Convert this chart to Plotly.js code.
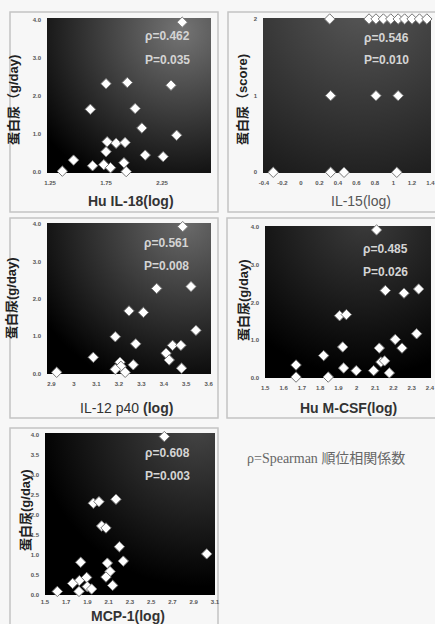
<!DOCTYPE html>
<html>
<head>
<meta charset="utf-8">
<script src="https://cdn.plot.ly/plotly-3.0.1.min.js"></script>
<style>
html,body{margin:0;padding:0;background:#f7f7f7;}
#chart{width:435px;height:624px;}
</style>
</head>
<body>
<div id="chart"></div>
<script>
// ---- data ----
const il18_x = [2.43,1.75,1.94,2.33,1.61,2.01,2.07,2.38,1.76,1.84,1.92,1.75,2.10,2.26,1.46,1.63,1.73,1.79,1.91,1.36,1.93];
const il18_y = [3.93,2.32,2.35,2.28,1.65,1.67,1.16,0.97,0.80,0.76,0.78,0.54,0.45,0.41,0.32,0.17,0.20,0.12,0.25,0.03,0.02];

const il15_x = [0.31,0.735,0.81,0.89,0.97,1.05,1.12,1.20,1.28,1.36,0.32,0.81,1.05,-0.30,0.32,0.465,1.035];
const il15_y = [2,2,2,2,2,2,2,2,2,2,1,1,1,0,0,0,0];

const il12_x = [3.484,3.368,3.521,3.245,3.309,3.543,3.184,3.275,3.439,3.476,3.086,3.41,3.424,3.205,3.209,3.184,3.264,3.479,3.228,2.923];
const il12_y = [3.93,2.28,2.33,1.68,1.64,1.16,0.99,0.80,0.76,0.76,0.44,0.55,0.37,0.31,0.20,0.12,0.24,0.15,0.04,0.04];

const mcsf_x = [2.108,2.156,2.258,2.338,1.906,1.943,2.327,2.21,2.247,1.923,2.123,1.819,2.132,2.152,1.668,1.928,1.997,2.092,2.178,1.668,1.844];
const mcsf_y = [3.93,2.32,2.25,2.36,1.65,1.68,1.17,1.02,0.79,0.82,0.79,0.59,0.42,0.45,0.34,0.26,0.19,0.19,0.13,0.02,0.02];

const mcp1_x = [2.623,1.955,2.008,2.168,2.033,2.074,2.20,3.022,1.836,2.087,2.237,2.112,2.074,1.892,1.823,1.76,1.898,1.939,2.137,1.82,1.616];
const mcp1_y = [3.96,2.29,2.33,2.39,1.72,1.67,1.20,1.02,0.81,0.79,0.84,0.58,0.44,0.43,0.35,0.28,0.20,0.14,0.23,0.08,0.08];

const rho_text = ["ρ=0.462","ρ=0.546","ρ=0.561","ρ=0.485","ρ=0.608"];
const p_text = ["P=0.035","P=0.010","P=0.008","P=0.026","P=0.003"];
const x_titles = ["<b>Hu IL-18(log)</b>","IL-15(log)","IL-12 p40 <b>(log)</b>","<b>Hu M-CSF(log)</b>","<b>MCP-1(log)</b>"];
const y_titles = ["蛋白尿（g/day)","蛋白尿（score)","蛋白尿(g/day)","蛋白尿(g/day)","蛋白尿(g/day)"];

const x1_ticks = [1.25,1.75,2.25];
const x1_labels = ["1.25","1.75","2.25"];
const x2_ticks = [-0.4,-0.2,0,0.2,0.4,0.6,0.8,1,1.2,1.4];
const x2_labels = ["-0.4","-0.2","0","0.2","0.4","0.6","0.8","1","1.2","1.4"];
const x3_ticks = [2.9,3.0,3.1,3.2,3.3,3.4,3.5,3.6];
const x3_labels = ["2.9","3","3.1","3.2","3.3","3.4","3.5","3.6"];
const x4_ticks = [1.5,1.6,1.7,1.8,1.9,2.0,2.1,2.2,2.3,2.4];
const x4_labels = ["1.5","1.6","1.7","1.8","1.9","2","2.1","2.2","2.3","2.4"];
const x5_ticks = [1.5,1.7,1.9,2.1,2.3,2.5,2.7,2.9,3.1];
const x5_labels = ["1.5","1.7","1.9","2.1","2.3","2.5","2.7","2.9","3.1"];
const y_ticks4 = [0,1,2,3,4];
const y_labels4 = ["0.0","1.0","2.0","3.0","4.0"];
const y2_ticks = [0,1,2];
const y2_labels = ["0","1","2"];
const y5_ticks = [0,0.5,1,1.5,2,2.5,3,3.5,4];
const y5_labels = ["0.0","0.5","1.0","1.5","2.0","2.5","3.0","3.5","4.0"];

// ---- layout geometry (pixels) ----
const W = 435, H = 624;
const PX = x => x / W;
const PY = y => 1 - y / H;

const panels = [
  {xd:[47,211], yd:[18,173], xr:[1.223,2.687], yr:[-0.018,4.04], xt:x1_ticks, xl:x1_labels, yt:y_ticks4, yl:y_labels4,
   xs:il18_x, ys:il18_y, grad:{cx:0.82,cy:0.08,r:1.05,inner:'#747474',outer:'#000000'}, so:5,
   ann:[167,36,60], xtitle:[131,201], ytitle:[14,100], frame:[10,12,218,212]},
  {xd:[263,431], yd:[18,173], xr:[-0.411,1.405], yr:[-0.009,2.013], xt:x2_ticks, xl:x2_labels, yt:y2_ticks, yl:y2_labels,
   xs:il15_x, ys:il15_y, grad:{cx:0.6,cy:-0.1,r:1.35,inner:'#585858',outer:'#101010'}, so:5,
   ann:[386,38,60], xtitle:[361,201], ytitle:[243,100], frame:[228,12,438,212]},
  {xd:[47,211], yd:[223,374], xr:[2.88,3.61], yr:[-0.005,4.027], xt:x3_ticks, xl:x3_labels, yt:y_ticks4, yl:y_labels4,
   xs:il12_x, ys:il12_y, grad:{cx:0.85,cy:0.0,r:1.05,inner:'#6a6a6a',outer:'#000000'}, so:5,
   ann:[166,243,266], xtitle:[126,408], ytitle:[11,298], frame:[10,218,218,418]},
  {xd:[265,431], yd:[226,378], xr:[1.4984,2.4055], yr:[-0.005,4.035], xt:x4_ticks, xl:x4_labels, yt:y_ticks4, yl:y_labels4,
   xs:mcsf_x, ys:mcsf_y, grad:{cx:0.6,cy:-0.05,r:0.95,inner:'#3c3c3c',outer:'#000000'}, so:5,
   ann:[385,249,272], xtitle:[348,408], ytitle:[243,300], frame:[227,218,438,418]},
  {xd:[45,215], yd:[433,595], xr:[1.5,3.1], yr:[-0.01,4.05], xt:x5_ticks, xl:x5_labels, yt:y5_ticks, yl:y5_labels,
   xs:mcp1_x, ys:mcp1_y, grad:{cx:0.9,cy:-0.05,r:0.95,inner:'#464646',outer:'#000000'}, so:2,
   ann:[167,453,476], xtitle:[128,616], ytitle:[25,510], frame:[10,428,218,632]}
];

function gradientURL(g, w, h) {
  const c = document.createElement('canvas');
  c.width = w; c.height = h;
  const ctx = c.getContext('2d');
  const gr = ctx.createRadialGradient(g.cx*w, g.cy*h, 0, g.cx*w, g.cy*h, g.r*Math.max(w,h));
  gr.addColorStop(0, g.inner);
  gr.addColorStop(1, g.outer);
  ctx.fillStyle = gr;
  ctx.fillRect(0,0,w,h);
  return c.toDataURL('image/png');
}

const traces = [];
const layout = {
  width: W, height: H,
  margin: {l:0, r:0, t:0, b:0},
  paper_bgcolor: '#f7f7f7',
  plot_bgcolor: 'rgba(0,0,0,0)',
  showlegend: false,
  font: {family: 'Liberation Sans, Arial, sans-serif', color: '#333'},
  annotations: [], shapes: [], images: []
};

const tickfont = {size: 6, color: '#555', family: 'Liberation Sans, Arial, sans-serif', weight: 'bold'};

panels.forEach((p, i) => {
  const n = i + 1;
  const xa = 'xaxis' + (n === 1 ? '' : n);
  const ya = 'yaxis' + (n === 1 ? '' : n);
  const xid = 'x' + (n === 1 ? '' : n);
  const yid = 'y' + (n === 1 ? '' : n);
  layout[xa] = {
    domain: [PX(p.xd[0]), PX(p.xd[1])], range: p.xr, anchor: yid,
    tickmode: 'array', tickvals: p.xt, ticktext: p.xl,
    showgrid: false, zeroline: false, showline: false, ticks: '',
    tickfont: tickfont, ticklabelstandoff: p.so, ticklabeloverflow: 'allow', fixedrange: true
  };
  layout[ya] = {
    domain: [PY(p.yd[1]), PY(p.yd[0])], range: p.yr, anchor: xid,
    tickmode: 'array', tickvals: p.yt, ticktext: p.yl,
    showgrid: false, zeroline: false, showline: false, ticks: '',
    tickfont: tickfont, ticklabelstandoff: 5, ticklabeloverflow: 'allow', fixedrange: true
  };
  traces.push({
    type: 'scatter', mode: 'markers', x: p.xs, y: p.ys, xaxis: xid, yaxis: yid,
    cliponaxis: false,
    marker: {symbol: 'diamond', size: 8, color: '#ffffff', line: {color: '#777', width: 1}},
    hoverinfo: 'none'
  });
  const w = p.xd[1] - p.xd[0], h = p.yd[1] - p.yd[0];
  layout.images.push({
    source: gradientURL(p.grad, w, h), xref: 'paper', yref: 'paper',
    x: PX(p.xd[0]), y: PY(p.yd[0]), sizex: w / W, sizey: h / H,
    xanchor: 'left', yanchor: 'top', sizing: 'stretch', layer: 'below'
  });
  layout.shapes.push({
    type: 'rect', xref: 'paper', yref: 'paper',
    x0: PX(p.frame[0]), x1: PX(p.frame[2]), y0: PY(p.frame[1]), y1: PY(p.frame[3]),
    line: {color: '#c4c4c4', width: 1.5}, fillcolor: 'rgba(0,0,0,0)', layer: 'below'
  });
  const annFont = {size: 12, color: '#d4d4d4', family: 'Liberation Sans, Arial, sans-serif', weight: 'bold'};
  layout.annotations.push({xref:'paper', yref:'paper', x: PX(p.ann[0]), y: PY(p.ann[1]), text: rho_text[i],
    showarrow:false, xanchor:'center', yanchor:'middle', font: annFont});
  layout.annotations.push({xref:'paper', yref:'paper', x: PX(p.ann[0]), y: PY(p.ann[2]), text: p_text[i],
    showarrow:false, xanchor:'center', yanchor:'middle', font: annFont});
  layout.annotations.push({xref:'paper', yref:'paper', x: PX(p.xtitle[0]), y: PY(p.xtitle[1]), text: x_titles[i],
    showarrow:false, xanchor:'center', yanchor:'middle',
    font: {size: 14, color: i === 1 ? '#555' : '#333', family: 'Liberation Sans, Arial, sans-serif'}});
  layout.annotations.push({xref:'paper', yref:'paper', x: PX(p.ytitle[0]), y: PY(p.ytitle[1]), text: '<b>' + y_titles[i] + '</b>',
    showarrow:false, xanchor:'center', yanchor:'middle', textangle: -90,
    font: {size: 13, color: '#222', family: 'Liberation Sans, Noto Sans CJK JP, sans-serif'}});
});

layout.annotations.push({xref:'paper', yref:'paper', x: PX(245), y: PY(457),
  text: 'ρ=Spearman <span style="font-family:Noto Sans CJK JP">順位相関係数</span>',
  showarrow:false, xanchor:'left', yanchor:'middle',
  font: {size: 14, color: '#666', family: 'Liberation Serif, DejaVu Serif, serif'}});

Plotly.newPlot('chart', traces, layout, {displayModeBar: false, staticPlot: true});
</script>
</body>
</html>
